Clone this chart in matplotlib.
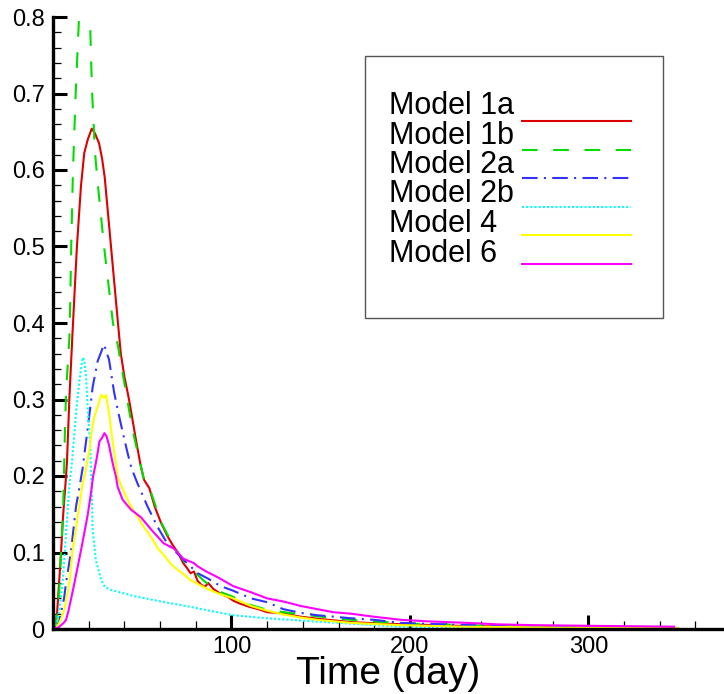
import matplotlib.pyplot as plt
from matplotlib.patches import Rectangle
from matplotlib.lines import Line2D
from matplotlib.ticker import MultipleLocator, FuncFormatter

plt.rcParams["font.family"] = ["Liberation Sans", "DejaVu Sans"]

# ---- data (time in days) ----
days_1a = [0, 1, 2.2, 3.4, 4.5, 5.6, 7, 7.8, 9.2, 11, 13.4, 15.7, 17.5, 19.5, 21.7, 23.5,
           25.8, 27.5, 29, 32.5, 36.4, 38, 40, 42.6, 46.5, 49, 51, 54, 57, 60.5, 64, 67,
           70, 73, 75, 77, 79, 81, 83, 85, 87, 90, 94, 98, 101, 105, 110, 115, 120, 130,
           139, 150, 167, 185, 200, 230, 260, 300, 350]
vals_1a = [0, 0.004, 0.018, 0.06, 0.1, 0.146, 0.19, 0.217, 0.303, 0.39, 0.5, 0.58, 0.622,
           0.64, 0.654, 0.648, 0.635, 0.615, 0.59, 0.5, 0.4, 0.36, 0.33, 0.3, 0.247, 0.215,
           0.195, 0.184, 0.16, 0.139, 0.122, 0.11, 0.1, 0.086, 0.08, 0.073, 0.075, 0.063,
           0.058, 0.055, 0.06, 0.052, 0.046, 0.042, 0.037, 0.033, 0.029, 0.026, 0.022, 0.02,
           0.016, 0.013, 0.009, 0.007, 0.006, 0.004, 0.003, 0.002, 0.001]

days_1b = [0, 1.5, 3.4, 4.5, 5.6, 6.3, 6.7, 7.3, 9.2, 9.6, 10.2, 11.2, 12.7, 14.6, 16.5,
           18, 19.5, 20.7, 21.8, 22.6, 23.5, 25, 28.6, 33.6, 36.4, 38, 44.6, 51, 54, 60.5,
           64, 70, 77, 80, 85, 92, 101, 107, 120, 139, 167, 200, 250, 300, 350]
vals_1b = [0, 0.005, 0.045, 0.1, 0.15, 0.217, 0.26, 0.308, 0.382, 0.42, 0.5, 0.6, 0.7, 0.8,
           0.88, 0.92, 0.87, 0.8, 0.707, 0.668, 0.624, 0.584, 0.5, 0.4, 0.37, 0.348, 0.26,
           0.195, 0.185, 0.14, 0.124, 0.1, 0.077, 0.073, 0.062, 0.05, 0.042, 0.034, 0.025,
           0.019, 0.012, 0.007, 0.004, 0.002, 0.001]

days_2a = [0, 2, 3.4, 4.5, 6.2, 7.3, 10, 12.9, 14.8, 16.6, 18.5, 20.4, 22.2, 25, 28.6, 31.4,
           34.2, 36.4, 39, 41.8, 44, 47.4, 53, 58.7, 64, 73.4, 81, 86.8, 94, 101,
           111, 120, 129, 139, 148, 158, 167, 180, 195, 220, 250, 300, 350]
vals_2a = [0, 0.003, 0.01, 0.022, 0.04, 0.06, 0.1, 0.16, 0.185, 0.21, 0.245, 0.28, 0.316,
           0.35, 0.372, 0.352, 0.31, 0.285, 0.258, 0.23, 0.21, 0.19, 0.16, 0.133, 0.112,
           0.09, 0.073, 0.066, 0.056, 0.05, 0.04, 0.035, 0.026, 0.021,
           0.018, 0.016, 0.014, 0.012, 0.008, 0.006, 0.004, 0.002, 0.001]

days_2b = [0, 2, 3.5, 5.4, 7.3, 9.2, 10.5, 11.6, 12.9, 14.8, 16.6, 17.5, 18.5, 19.4, 20.9,
           21.5, 22.2, 24, 27, 29, 32.5, 45.4, 60.5, 77, 83, 101, 120, 139, 160, 180, 195,
           230, 300, 350]
vals_2b = [0, 0.005, 0.025, 0.06, 0.125, 0.19, 0.215, 0.245, 0.282, 0.325, 0.355, 0.352,
           0.33, 0.29, 0.238, 0.195, 0.13, 0.09, 0.064, 0.055, 0.051, 0.043, 0.036, 0.029,
           0.026, 0.018, 0.014, 0.011, 0.008, 0.005, 0.003, 0.0015, 0.0005, 0.0003]

days_4 = [0, 2, 3.5, 5, 6.3, 7.8, 9.2, 11, 13.8, 16.6, 18.5, 20.4, 21.5, 23, 25, 27, 28.5,
          29.7, 31.4, 33.4, 35.3, 36.2, 40, 43, 47.5, 51, 55, 58.8, 62, 66, 70, 73, 77, 81,
          86, 92, 101, 111, 120, 129, 139, 148, 167, 195, 230, 280, 350]
vals_4 = [0, 0.002, 0.008, 0.016, 0.025, 0.042, 0.06, 0.103, 0.146, 0.19, 0.21, 0.234, 0.255,
          0.277, 0.29, 0.306, 0.302, 0.306, 0.282, 0.245, 0.215, 0.199, 0.178, 0.163, 0.146,
          0.133, 0.12, 0.105, 0.097, 0.085, 0.077, 0.072, 0.064, 0.059, 0.053, 0.047, 0.04,
          0.03, 0.024, 0.019, 0.015, 0.012, 0.008, 0.005, 0.003, 0.002, 0.001]

days_6 = [0, 3, 4.5, 6, 7.3, 8.5, 10, 12, 13.8, 15.7, 17.5, 19.5, 21.3, 22.5, 24, 25, 26,
          27.5, 28.8, 30, 31.4, 33.4, 35.3, 36.2, 39, 43.7, 49.3, 55, 62, 67.8, 73, 77, 79,
          81, 86, 92, 101, 111, 120, 129, 139, 148, 157, 167, 180, 195, 210, 232, 250, 270,
          307, 330, 348]
vals_6 = [0, 0.002, 0.005, 0.008, 0.012, 0.022, 0.038, 0.06, 0.081, 0.103, 0.125, 0.15,
          0.178, 0.2, 0.217, 0.23, 0.245, 0.25, 0.256, 0.252, 0.24, 0.217, 0.199, 0.186,
          0.169, 0.156, 0.146, 0.13, 0.112, 0.105, 0.092, 0.088, 0.086, 0.082, 0.075, 0.068,
          0.056, 0.048, 0.04, 0.036, 0.03, 0.026, 0.022, 0.02, 0.016, 0.012, 0.01, 0.008,
          0.006, 0.005, 0.004, 0.0035, 0.003]

labels = ["Model 1a", "Model 1b", "Model 2a", "Model 2b", "Model 4", "Model 6"]
colors = ["#dd0000", "#00dd00", "#3333ff", "#00ffff", "#ffff00", "#ff00ff"]
styles = ["-", (0, (7.5, 7.5)), (0, (7.5, 3, 1, 3)), (0, (1, 1)), "-", "-"]

series = [(days_1a, vals_1a), (days_1b, vals_1b), (days_2a, vals_2a),
          (days_2b, vals_2b), (days_4, vals_4), (days_6, vals_6)]

fig = plt.figure(figsize=(7.24, 6.94), dpi=100)
ax = fig.add_axes([53 / 724, 65 / 694, 671 / 724, 612 / 694])

for (d, v), c, ls in zip(series, colors, styles):
    ax.plot(d, v, color=c, linestyle=ls, linewidth=1.5)

ax.set_xlim(0, 376)
ax.set_ylim(0, 0.8)

for side in ("top", "right"):
    ax.spines[side].set_visible(False)
for side in ("left", "bottom"):
    ax.spines[side].set_linewidth(2.4)

ax.xaxis.set_major_locator(MultipleLocator(100))
ax.xaxis.set_minor_locator(MultipleLocator(20))
ax.yaxis.set_major_locator(MultipleLocator(0.1))
ax.yaxis.set_minor_locator(MultipleLocator(0.02))
ax.xaxis.set_major_formatter(FuncFormatter(lambda v, p: "" if v == 0 else f"{v:g}"))
ax.yaxis.set_major_formatter(FuncFormatter(lambda v, p: f"{v:g}"))

ax.tick_params(which="major", direction="in", length=10, width=2.2, labelsize=17)
ax.tick_params(which="minor", direction="in", length=5.5, width=0.9)
ax.tick_params(axis="y", which="major", pad=6)
ax.tick_params(axis="x", which="major", pad=5)

ax.set_xlabel("Time (day)", fontsize=28, labelpad=-1.5)

# legend box drawn by hand: labels left-aligned, samples to the right
box = Rectangle((0.465, 0.508), 0.444, 0.428, transform=ax.transAxes,
                facecolor="white", edgecolor="#555555", linewidth=1.0, zorder=5)
ax.add_patch(box)
for i, (lab, c, ls) in enumerate(zip(labels, colors, styles)):
    yb = (629 - 114 - 29.5 * i) / 612
    yl = (629 - 121 - 28.5 * i) / 612
    ax.text(0.5007, yb, lab, transform=ax.transAxes, fontsize=22, va="baseline",
            ha="left", zorder=6)
    ax.add_line(Line2D([0.699, 0.861], [yl, yl], transform=ax.transAxes, color=c,
                       linestyle=ls, linewidth=1.5, zorder=6))

fig.savefig("out.png", dpi=100)
